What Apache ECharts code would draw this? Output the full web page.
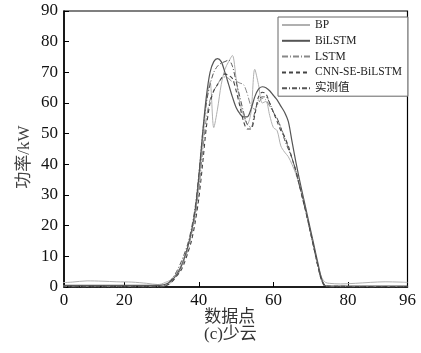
<!DOCTYPE html>
<html><head><meta charset="utf-8">
<script src="https://cdn.jsdelivr.net/npm/echarts@6/dist/echarts.min.js"></script>
<style>html,body{margin:0;padding:0;background:#fff}#c{width:421px;height:353px}</style>
</head><body><div id="c"></div>
<script>
const seriesNames = ['BP', 'BiLSTM', 'LSTM', 'CNN-SE-BiLSTM', '实测值'];
const xTickValues = [3.8, 20, 40, 60, 80, 96];
const xTickLabels = ['0', '20', '40', '60', '80', '96'];
const bp = [[3,1.4],[6,1.6],[10,2.0],[14,1.9],[18,1.7],[22,1.6],[26,1.2],[29,0.8],[30,1.0],[31,1.5],[32,2],[33,3],[34,4.5],[35,6.5],[36,9.5],[37,13],[38,18],[39,24],[40,33],[41,47],[42,60],[43,67],[44,52],[45,58],[46,66],[47,71],[48,73.5],[49,75.5],[50,68],[51,60],[52,56],[53,53],[54,57],[55,71],[56,66],[57,60],[58,60.5],[59,56],[60,52],[61,51],[62,46],[63,44],[64,42.5],[65,40],[66,37],[67,33],[68,28.5],[69,23],[70,18],[71,12.5],[72,7],[73,3],[74,1.5],[75,1.2],[78,1],[82,1.2],[86,1.5],[90,1.7],[94,1.6],[96,1.5]];
const bilstm = [[3,0.5],[20,0.5],[29,0.5],[30,0.6],[31,0.9],[32,1.5],[33,2.5],[34,4],[35,6],[36,9],[37,13],[38,18],[39,25],[40,36],[41,50],[42,62],[43,70],[44,73.5],[45,74.5],[46,73.5],[47,70],[48,66],[49,62],[50,58.5],[51,56.5],[52,55.5],[53,55.5],[54,58],[55,62],[56,64.5],[57,65.3],[58,65],[59,64],[60,62.5],[61,61],[62,59],[63,57],[64,54],[65,47.5],[66,41],[67,35],[68,29.5],[69,24],[70,18.5],[71,13],[72,7.5],[73,2.5],[74,0.4],[76,0.3],[96,0.3]];
const lstm = [[3,0.2],[30,0.2],[31,0.5],[32,1],[33,2],[34,3.5],[35,5.5],[36,8.5],[37,12],[38,17],[39,23],[40,32],[41,44],[42,55],[43,61],[44,64],[45,66],[46,68],[47,68.5],[48,68],[49,67],[50,67],[51,66.5],[52,66],[53,63],[54,59],[55,58],[56,60],[57,61.5],[58,61],[59,59],[60,57],[61,55],[62,52],[63,49],[64,45.5],[65,42],[66,38],[67,33.5],[68,28.5],[69,23],[70,17.5],[71,12],[72,6.5],[73,2],[74,0.5],[75,0.2],[96,0.2]];
const cnn = [[3,0.1],[30,0.1],[31,0.4],[32,1],[33,2],[34,3.5],[35,5],[36,7.5],[37,11],[38,15],[39,21],[40,29],[41,40],[42,52],[43,60],[44,64],[45,66],[46,68],[47,69.5],[48,69],[49,68],[50,64],[51,59],[52,54],[53,51.5],[54,51.5],[55,56],[56,62],[57,63.5],[58,63],[59,60],[60,57],[61,54],[62,51],[63,49],[64,46],[65,42],[66,38],[67,33],[68,28],[69,23],[70,17.5],[71,12],[72,6.5],[73,2],[74,0.3],[96,0.1]];
const actual = [[3,0],[30,0],[31,0.5],[32,1.5],[33,3],[34,5],[35,7.5],[36,10.5],[37,14],[38,19],[39,26],[40,37],[41,50],[42,60],[43,66],[44,70],[45,72],[46,73],[47,73.5],[48,74],[49,72],[50,67],[51,62],[52,57],[53,53],[54,52],[55,57],[56,61],[57,62],[58,62],[59,60],[60,57],[61,55],[62,52],[63,48],[64,45],[65,42],[66,38],[67,33],[68,28],[69,23],[70,17.5],[71,12],[72,6.5],[73,2],[74,0.5],[75,0],[96,0]];

const serif = "'Liberation Serif', 'Times New Roman', 'Noto Sans CJK SC', serif";
const styles = [
  {color:'#b0b0b0', width:1, type:'solid'},
  {color:'#555', width:1.2, type:'solid'},
  {color:'#888', width:1, type:[6,2,1,2]},
  {color:'#444', width:1.1, type:[4,3]},
  {color:'#555', width:1, type:[5,2,1,2]}
];
const datasets = [bp, bilstm, lstm, cnn, actual];
const chart = echarts.init(document.getElementById('c'), null, {renderer:'canvas'});
chart.setOption({
  animation:false,
  backgroundColor:'#fff',
  grid:{left:64, right:13.5, top:11, bottom:66, show:true, borderColor:'#000', borderWidth:1.2, backgroundColor:'transparent'},
  legend:{
    data: seriesNames, orient:'vertical', left:278, top:17,
    itemWidth:28, itemHeight:10, itemGap:3.8, itemTextGap:3,
    padding:[2,6,2,3], backgroundColor:'#fff', borderColor:'#666', borderWidth:1,
    itemStyle:{opacity:0},
    textStyle:{fontFamily:serif, fontSize:11.5, color:'#222', lineHeight:12}
  },
  xAxis:{
    type:'value', min:3.8, max:96,
    name:'数据点', nameLocation:'middle', nameGap:22, nameMoveOverlap:false,
    nameTextStyle:{fontFamily:serif, fontSize:17, color:'#333', padding:[0,12,0,0], verticalAlign:'top'},
    axisLine:{show:true, lineStyle:{color:'#000', width:1.5}},
    axisTick:{show:true, inside:true, length:5, customValues:xTickValues, lineStyle:{color:'#000'}},
    axisLabel:{customValues:xTickValues, formatter:function(v){const i=xTickValues.indexOf(v);return i>=0?xTickLabels[i]:'';}, fontFamily:serif, fontSize:17, color:'#111', margin:5},
    splitLine:{show:false}
  },
  yAxis:{
    type:'value', min:0, max:90, interval:10,
    name:'功率/kW', nameLocation:'middle', nameGap:31, nameRotate:90, nameMoveOverlap:false,
    nameTextStyle:{fontFamily:serif, fontSize:17, color:'#444', padding:[0,16,0,0]},
    axisLine:{show:true, lineStyle:{color:'#000', width:1.5}},
    axisTick:{show:true, inside:true, length:5, lineStyle:{color:'#000'}},
    axisLabel:{fontFamily:serif, fontSize:17, color:'#111', margin:6},
    splitLine:{show:false}
  },
  graphic:[{type:'text', left:204, top:326, style:{text:'(c)少云', font:"17px " + serif, fill:'#333'}}],
  series: seriesNames.map((n,i)=>({
    name:n, type:'line', data:datasets[i], symbol:'none', smooth:0.3, clip:true,
    lineStyle:styles[i], itemStyle:{color:styles[i].color}, z:2+i
  }))
});
</script></body></html>
